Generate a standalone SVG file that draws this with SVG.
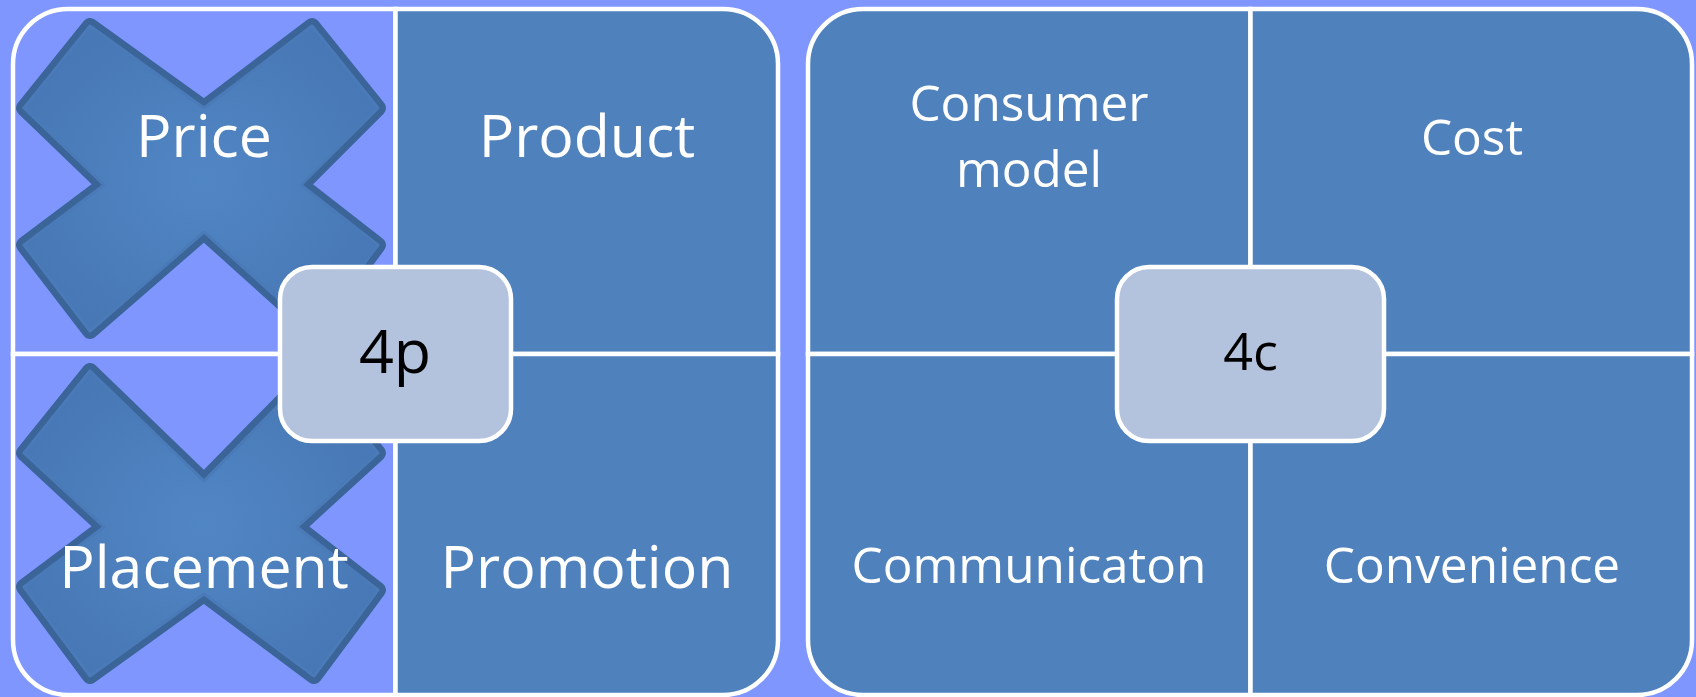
<svg xmlns="http://www.w3.org/2000/svg" width="1696" height="697" viewBox="0 0 1696 697">
<style>
.q{fill:#4F81BD;stroke:#FFFFFF;stroke-width:4.5}
.qb{fill:#7F96FF;stroke:#FFFFFF;stroke-width:4.5}
.c{fill:#B3C2DD;stroke:#FFFFFF;stroke-width:4.5}
.xo{fill:#3B6499;stroke:#3B6499;stroke-width:16;stroke-linejoin:round}
.xi{fill:url(#xg);stroke:#4A7BB8;stroke-width:3;stroke-linejoin:round}
.t{font-family:"Open Sans","Liberation Sans",sans-serif;fill:#FFFFFF;text-anchor:middle}
.l{font-size:59px}
.s{font-size:49.5px}
.k{font-family:"Open Sans","Liberation Sans",sans-serif;fill:#000000;text-anchor:middle}
</style>
<defs>
<radialGradient id="xg" cx="0.5" cy="0.5" r="0.6">
<stop offset="0" stop-color="#5186C4"/>
<stop offset="1" stop-color="#4777B4"/>
</radialGradient>
<polygon id="x1" points="90,26 204,108 312,26 378,108 301,185 378,245 314,331 204,232 90,331 24,245 104,185 24,108"/>
<polygon id="x2" points="90,371 204,481 312,371 378,453 297,527 378,590 314,676 204,594 90,676 24,587 104,527 24,453"/>
</defs>
<rect x="0" y="0" width="1696" height="697" fill="#7F96FF"/>
<g id="panel-4p">
<g id="price">
<path class="qb" d="M13,64 A55,55 0 0 1 68,9 L395.5,9 L395.5,354 L13,354 Z"/>
<use href="#x1" class="xo"/>
<use href="#x1" class="xi"/>
<text class="t l" x="204" y="157">Price</text>
</g>
<g id="product">
<path class="q" d="M395.5,9 L723,9 A55,55 0 0 1 778,64 L778,354 L395.5,354 Z"/>
<text class="t l" x="587" y="157">Product</text>
</g>
<g id="placement">
<path class="qb" d="M13,354 L395.5,354 L395.5,695 L68,695 A55,55 0 0 1 13,640 Z"/>
<use href="#x2" class="xo"/>
<use href="#x2" class="xi"/>
<text class="t l" x="204" y="588">Placement</text>
</g>
<g id="promotion">
<path class="q" d="M395.5,354 L778,354 L778,640 A55,55 0 0 1 723,695 L395.5,695 Z"/>
<text class="t l" x="587" y="588">Promotion</text>
</g>
<g id="center-4p">
<rect class="c" x="280" y="267" width="231" height="174" rx="32" ry="32"/>
<text class="k" x="395" y="373" font-size="61">4p</text>
</g>
</g>
<g id="panel-4c">
<g id="consumer-model">
<path class="q" d="M808,64 A55,55 0 0 1 863,9 L1250.5,9 L1250.5,354 L808,354 Z"/>
<text class="t s" x="1029" y="121">Consumer</text>
<text class="t s" x="1029" y="187">model</text>
</g>
<g id="cost">
<path class="q" d="M1250.5,9 L1637,9 A55,55 0 0 1 1692,64 L1692,354 L1250.5,354 Z"/>
<text class="t s" x="1472" y="155">Cost</text>
</g>
<g id="communication">
<path class="q" d="M808,354 L1250.5,354 L1250.5,695 L863,695 A55,55 0 0 1 808,640 Z"/>
<text class="t s" x="1029" y="583">Communicaton</text>
</g>
<g id="convenience">
<path class="q" d="M1250.5,354 L1692,354 L1692,640 A55,55 0 0 1 1637,695 L1250.5,695 Z"/>
<text class="t s" x="1472" y="583">Convenience</text>
</g>
<g id="center-4c">
<rect class="c" x="1117" y="267" width="267" height="174" rx="32" ry="32"/>
<text class="k" x="1250.5" y="370" font-size="52">4c</text>
</g>
</g>
<g id="connectors"></g>
</svg>
